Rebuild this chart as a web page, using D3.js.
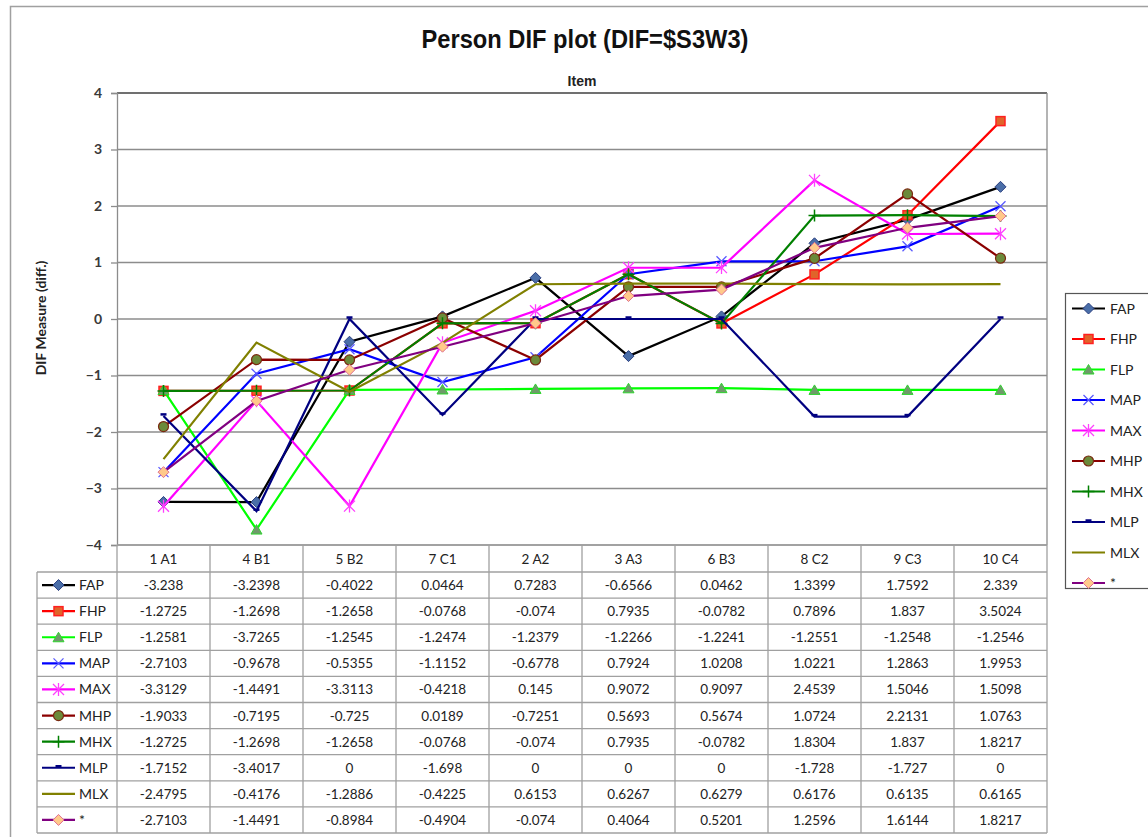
<!DOCTYPE html>
<html><head><meta charset="utf-8">
<script src="https://cdn.jsdelivr.net/npm/d3@7"></script>
<style>
html,body{margin:0;padding:0;background:#fff;}
svg{display:block;}
</style></head>
<body>
<svg id="chart" width="1148" height="837"></svg>
<script>
const categories = ["1 A1","4 B1","5 B2","7 C1","2 A2","3 A3","6 B3","8 C2","9 C3","10 C4"];
const seriesNames = ["FAP","FHP","FLP","MAP","MAX","MHP","MHX","MLP","MLX","*"];
const FAP = [-3.238,-3.2398,-0.4022,0.0464,0.7283,-0.6566,0.0462,1.3399,1.7592,2.339];
const FHP = [-1.2725,-1.2698,-1.2658,-0.0768,-0.074,0.7935,-0.0782,0.7896,1.837,3.5024];
const FLP = [-1.2581,-3.7265,-1.2545,-1.2474,-1.2379,-1.2266,-1.2241,-1.2551,-1.2548,-1.2546];
const MAP = [-2.7103,-0.9678,-0.5355,-1.1152,-0.6778,0.7924,1.0208,1.0221,1.2863,1.9953];
const MAX = [-3.3129,-1.4491,-3.3113,-0.4218,0.145,0.9072,0.9097,2.4539,1.5046,1.5098];
const MHP = [-1.9033,-0.7195,-0.725,0.0189,-0.7251,0.5693,0.5674,1.0724,2.2131,1.0763];
const MHX = [-1.2725,-1.2698,-1.2658,-0.0768,-0.074,0.7935,-0.0782,1.8304,1.837,1.8217];
const MLP = [-1.7152,-3.4017,0,-1.698,0,0,0,-1.728,-1.727,0];
const MLX = [-2.4795,-0.4176,-1.2886,-0.4225,0.6153,0.6267,0.6279,0.6176,0.6135,0.6165];
const STAR = [-2.7103,-1.4491,-0.8984,-0.4904,-0.074,0.4064,0.5201,1.2596,1.6144,1.8217];
const valueTexts = [
 ["-3.238","-3.2398","-0.4022","0.0464","0.7283","-0.6566","0.0462","1.3399","1.7592","2.339"],
 ["-1.2725","-1.2698","-1.2658","-0.0768","-0.074","0.7935","-0.0782","0.7896","1.837","3.5024"],
 ["-1.2581","-3.7265","-1.2545","-1.2474","-1.2379","-1.2266","-1.2241","-1.2551","-1.2548","-1.2546"],
 ["-2.7103","-0.9678","-0.5355","-1.1152","-0.6778","0.7924","1.0208","1.0221","1.2863","1.9953"],
 ["-3.3129","-1.4491","-3.3113","-0.4218","0.145","0.9072","0.9097","2.4539","1.5046","1.5098"],
 ["-1.9033","-0.7195","-0.725","0.0189","-0.7251","0.5693","0.5674","1.0724","2.2131","1.0763"],
 ["-1.2725","-1.2698","-1.2658","-0.0768","-0.074","0.7935","-0.0782","1.8304","1.837","1.8217"],
 ["-1.7152","-3.4017","0","-1.698","0","0","0","-1.728","-1.727","0"],
 ["-2.4795","-0.4176","-1.2886","-0.4225","0.6153","0.6267","0.6279","0.6176","0.6135","0.6165"],
 ["-2.7103","-1.4491","-0.8984","-0.4904","-0.074","0.4064","0.5201","1.2596","1.6144","1.8217"]
];
const yTicks = [-4,-3,-2,-1,0,1,2,3,4];
const seriesValues = [FAP,FHP,FLP,MAP,MAX,MHP,MHX,MLP,MLX,STAR];

const styles = [
 {line:"#000000", marker:"diamond", fill:"#4a6ea8", stroke:"#2a3f80"},
 {line:"#ff0000", marker:"square", fill:"#e0642a", stroke:"#ff2020"},
 {line:"#00ff00", marker:"triangle", fill:"#6f9a6a", stroke:"#2fd42f"},
 {line:"#0000ff", marker:"x", fill:"none", stroke:"#5a5aff"},
 {line:"#ff00ff", marker:"star", fill:"none", stroke:"#ff40ff"},
 {line:"#8b0000", marker:"circle", fill:"#6b8a3a", stroke:"#7a2a10"},
 {line:"#008000", marker:"plus", fill:"none", stroke:"#008000"},
 {line:"#000080", marker:"dash", fill:"none", stroke:"#000080"},
 {line:"#808000", marker:"none", fill:"none", stroke:"#808000"},
 {line:"#800080", marker:"diamond", fill:"#ffc98a", stroke:"#e07090"}
];

const svg = d3.select("#chart");
const tfont = "Lato, 'Open Sans', sans-serif";
const bfont = "'Liberation Sans', Arial, sans-serif";

svg.append("rect").attr("x",10.5).attr("y",6.5).attr("width",1160).attr("height",860)
  .attr("fill","#fff").attr("stroke","#a0a0a0").attr("stroke-width",1.5);

const L=117, R=1047, T=93, B=545;
const x = d3.scaleBand().domain(categories).range([L,R]);
const y = d3.scaleLinear().domain([-4,4]).range([B,T]);

svg.append("g").selectAll("line").data(yTicks).join("line")
  .attr("x1",L).attr("x2",R).attr("y1",d=>y(d)).attr("y2",d=>y(d))
  .attr("stroke","#8c8c8c").attr("stroke-width",1.3);
svg.append("line").attr("x1",L).attr("x2",R).attr("y1",T).attr("y2",T).attr("stroke","#707070").attr("stroke-width",1.8);
svg.append("line").attr("x1",R).attr("x2",R).attr("y1",T).attr("y2",B).attr("stroke","#8c8c8c").attr("stroke-width",1.3);

const yAxis = d3.axisLeft(y).tickValues(yTicks).tickSize(6).tickPadding(9).tickFormat(d3.format("d"));
const gy = svg.append("g").attr("transform",`translate(${L},0)`).call(yAxis);
gy.select(".domain").attr("stroke","#8c8c8c").attr("stroke-width",1.3);
gy.selectAll(".tick line").attr("stroke","#8c8c8c").attr("stroke-width",1.3);
gy.selectAll(".tick text").attr("font-family",tfont).attr("font-size",14).attr("font-weight","bold").attr("fill","#3a3a3a");

svg.append("text").attr("x",585).attr("y",44).attr("text-anchor","middle")
  .attr("font-family",bfont).attr("font-weight","bold")
  .attr("font-size",23).attr("fill","#111").attr("transform","translate(585,0) scale(1.03,1.1) translate(-585,0)")
  .text("Person DIF plot (DIF=$S3W3)");
svg.append("text").attr("x",582).attr("y",86).attr("text-anchor","middle")
  .attr("font-family",bfont).attr("font-weight","bold")
  .attr("font-size",14).attr("fill","#222").text("Item");
svg.append("text").attr("transform","translate(46,318) rotate(-90)").attr("text-anchor","middle")
  .attr("font-family",tfont).attr("font-weight","bold").attr("font-size",14).attr("fill","#222")
  .text("DIF Measure (diff.)");

function drawMarker(g, type, cx, cy, st) {
  if (type==="diamond") {
    const r=5.5;
    g.append("path").attr("d",`M${cx},${cy-r}L${cx+r},${cy}L${cx},${cy+r}L${cx-r},${cy}Z`)
      .attr("fill",st.fill).attr("stroke",st.stroke).attr("stroke-width",1);
  } else if (type==="square") {
    g.append("rect").attr("x",cx-4.5).attr("y",cy-4.5).attr("width",9).attr("height",9)
      .attr("fill",st.fill).attr("stroke",st.stroke).attr("stroke-width",1.5);
  } else if (type==="triangle") {
    g.append("path").attr("d",`M${cx},${cy-5}L${cx+5.5},${cy+4.5}L${cx-5.5},${cy+4.5}Z`)
      .attr("fill",st.fill).attr("stroke",st.stroke).attr("stroke-width",1);
  } else if (type==="circle") {
    g.append("circle").attr("cx",cx).attr("cy",cy).attr("r",5)
      .attr("fill",st.fill).attr("stroke",st.stroke).attr("stroke-width",1.2);
  } else if (type==="x") {
    const r=5;
    g.append("path").attr("d",`M${cx-r},${cy-r}L${cx+r},${cy+r}M${cx-r},${cy+r}L${cx+r},${cy-r}`)
      .attr("stroke",st.stroke).attr("stroke-width",1.3).attr("fill","none");
  } else if (type==="star") {
    const r=5.5;
    g.append("path").attr("d",`M${cx-r},${cy-r}L${cx+r},${cy+r}M${cx-r},${cy+r}L${cx+r},${cy-r}M${cx},${cy-r-1}L${cx},${cy+r+1}`)
      .attr("stroke",st.stroke).attr("stroke-width",1.3).attr("fill","none");
  } else if (type==="plus") {
    g.append("path").attr("d",`M${cx},${cy-6}L${cx},${cy+6}M${cx-6},${cy}L${cx+6},${cy}`)
      .attr("stroke",st.stroke).attr("stroke-width",1.5).attr("fill","none");
  } else if (type==="dash") {
    g.append("path").attr("d",`M${cx-3},${cy-1.5}L${cx+3},${cy-1.5}`)
      .attr("stroke",st.stroke).attr("stroke-width",2.5).attr("fill","none");
  }
}

const line = d3.line().x((d,i)=>x(categories[i])+x.bandwidth()/2).y(d=>y(d));
seriesValues.forEach((vals,si)=>{
  const st = styles[si];
  const g = svg.append("g");
  g.append("path").datum(vals).attr("d",line).attr("fill","none")
    .attr("stroke",st.line).attr("stroke-width",2.2).attr("stroke-linejoin","miter");
  vals.forEach((v,i)=>drawMarker(g, st.marker, x(categories[i])+x.bandwidth()/2, y(v), st));
});

const TL = 37, rowH = 26.1, headTop = B, headH = 27;
const tg = svg.append("g");
const tableStroke = "#a0a0a0";
tg.selectAll("text.hdr").data(categories).join("text").attr("class","hdr")
  .attr("x",d=>x(d)+x.bandwidth()/2).attr("y",headTop+headH/2+5).attr("text-anchor","middle")
  .attr("font-family",tfont).attr("font-size",13.5).attr("fill","#222").text(d=>d);
const tableBottom = headTop+headH+rowH*seriesNames.length;
tg.append("line").attr("x1",L).attr("x2",R).attr("y1",headTop).attr("y2",headTop).attr("stroke",tableStroke).attr("stroke-width",1.3);
d3.range(seriesNames.length+1).forEach(k=>{
  const yy = headTop+headH+rowH*k;
  tg.append("line").attr("x1",TL).attr("x2",R).attr("y1",yy).attr("y2",yy).attr("stroke",tableStroke).attr("stroke-width",1.3);
});
tg.append("line").attr("x1",TL).attr("x2",TL).attr("y1",headTop+headH).attr("y2",tableBottom).attr("stroke",tableStroke).attr("stroke-width",1.3);
d3.range(categories.length+1).forEach(k=>{
  const xx = L + x.step()*k;
  tg.append("line").attr("x1",xx).attr("x2",xx).attr("y1",headTop).attr("y2",tableBottom).attr("stroke",tableStroke).attr("stroke-width",1.3);
});
seriesNames.forEach((name,si)=>{
  const cy = headTop+headH+rowH*si+rowH/2;
  const st = styles[si];
  tg.append("line").attr("x1",42).attr("x2",75).attr("y1",cy).attr("y2",cy).attr("stroke",st.line).attr("stroke-width",2.2);
  drawMarker(tg, st.marker, 58.5, cy, st);
  tg.append("text").attr("x",79).attr("y",cy+5).attr("font-family",tfont).attr("font-size",14)
    .attr("fill","#222").text(name);
  valueTexts[si].forEach((t,i)=>{
    tg.append("text").attr("x",x(categories[i])+x.bandwidth()/2).attr("y",cy+5).attr("text-anchor","middle")
      .attr("font-family",tfont).attr("font-size",13.5).attr("fill","#222").text(t);
  });
});

const lg = svg.append("g");
lg.append("rect").attr("x",1065.5).attr("y",293.5).attr("width",100).attr("height",295)
  .attr("fill","#fff").attr("stroke","#555").attr("stroke-width",1.2);
seriesNames.forEach((name,si)=>{
  const cy = 308.5 + 30.5*si;
  const st = styles[si];
  lg.append("line").attr("x1",1072).attr("x2",1105).attr("y1",cy).attr("y2",cy).attr("stroke",st.line).attr("stroke-width",2.2);
  drawMarker(lg, st.marker, 1088.5, cy, st);
  lg.append("text").attr("x",1110).attr("y",cy+5).attr("font-family",tfont).attr("font-size",14)
    .attr("fill","#222").text(name);
});
</script>
</body></html>
